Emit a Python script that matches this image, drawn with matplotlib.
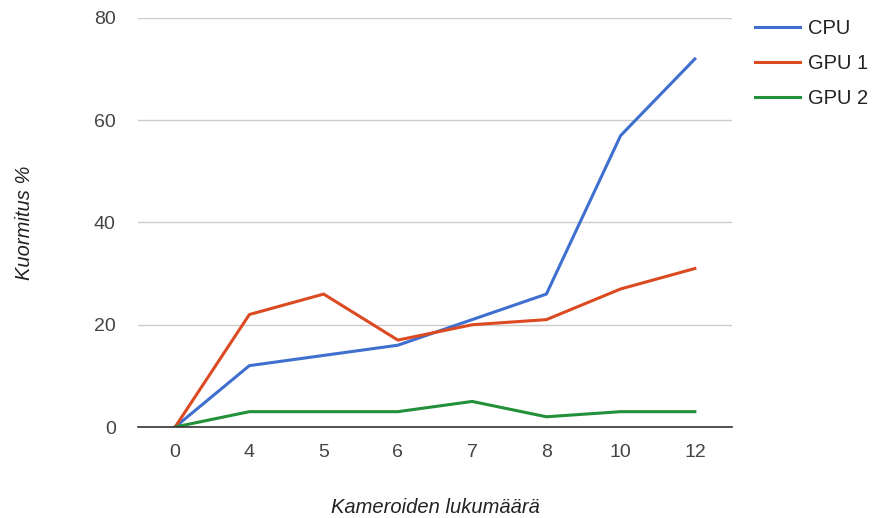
import matplotlib
matplotlib.use('Agg')
import matplotlib.pyplot as plt

plt.rcParams['font.family'] = ['Liberation Sans', 'DejaVu Sans']

# Camera counts and load per processor
cameras = ['0', '4', '5', '6', '7', '8', '10', '12']
cpu = [0, 12, 14, 16, 21, 26, 57, 72]
gpu1 = [0, 22, 26, 17, 20, 21, 27, 31]
gpu2 = [0, 3, 3, 3, 5, 2, 3, 3]

fig = plt.figure(figsize=(8.76, 5.18), dpi=100)
ax = fig.add_axes([138 / 876, 1 - 427 / 518, 594 / 876, 409 / 518])

x = range(len(cameras))
ax.plot(x, cpu, color='#3f6fcf', lw=2.2, label='CPU')
ax.plot(x, gpu1, color='#dc4a22', lw=2.2, label='GPU 1')
ax.plot(x, gpu2, color='#23903a', lw=2.2, label='GPU 2')

ax.set_xlim(-0.5, len(cameras) - 0.5)
ax.set_ylim(0, 80)
ax.set_xticks(list(x))
ax.set_xticklabels(cameras)
ax.set_yticks([0, 20, 40, 60, 80])

ax.grid(axis='y', color='#cccccc', lw=1)
ax.set_axisbelow(True)
for s in ['top', 'right', 'left']:
    ax.spines[s].set_visible(False)
ax.spines['bottom'].set_color('#333333')
ax.spines['bottom'].set_linewidth(1.2)
ax.spines['bottom'].set_zorder(3)
ax.tick_params(length=0, colors='#444444', labelsize=14)
ax.tick_params(axis='x', pad=12)
ax.tick_params(axis='y', pad=16)

ax.set_xlabel('Kameroiden lukumäärä', style='italic', fontsize=14.5, color='#222222')
ax.xaxis.set_label_coords(0.5, -71 / 409)
ax.set_ylabel('Kuormitus %', style='italic', fontsize=14.5, color='#222222')
ax.yaxis.set_label_coords(-104 / 594, 0.5)

ax.legend(loc='upper left', bbox_to_anchor=(609 / 594, 1.018), borderaxespad=0,
          frameon=False, fontsize=14.5, handlelength=2.25, handletextpad=0.4,
          labelspacing=0.8, labelcolor='#222222')

fig.savefig('out.png', dpi=100)
